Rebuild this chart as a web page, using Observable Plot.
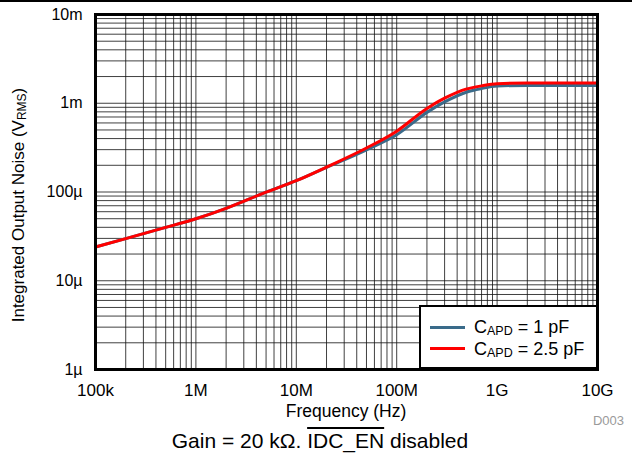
<!DOCTYPE html>
<html><head><meta charset="utf-8">
<script src="https://cdn.jsdelivr.net/npm/d3@7"></script>
<script src="https://cdn.jsdelivr.net/npm/@observablehq/plot@0.6"></script>
<style>
body{margin:0;background:#fff;font-family:"Liberation Sans",Arial,Helvetica,sans-serif;color:#000;}
#wrap{position:relative;width:632px;height:457px;overflow:hidden;background:#fff;}
#chart{position:absolute;left:0;top:0;}
#topline{position:absolute;left:0;top:0;width:632px;height:2px;background:#000;}
.abs{position:absolute;white-space:nowrap;}
#xlabel{left:246px;width:200px;top:402px;text-align:center;font-size:17.5px;line-height:18px;}
#ylabel{left:-131px;width:300px;top:196px;height:18px;text-align:center;font-size:17px;line-height:18px;transform:rotate(-90deg);transform-origin:50% 50%;}
#ylabel sub{font-size:12px;}
#dcode{left:560px;width:64px;top:414px;text-align:right;font-size:13px;line-height:14px;color:#9a9a9a;}
#caption{left:0;width:640px;top:430px;text-align:center;font-size:21px;line-height:22px;}
#caption .ov{text-decoration:overline;}
#legend{left:419px;top:305px;width:175px;height:60px;border:2px solid #000;background:#fff;}
.sw{position:absolute;left:9px;width:35px;height:3px;}
.lt{position:absolute;left:53px;font-size:18px;line-height:20px;}
sub{font-size:12.5px;vertical-align:-2px;line-height:0;}
</style>
</head><body>
<div id="wrap">
  <div id="chart"></div>
  <div id="topline"></div>
  <div id="ylabel" class="abs"></div>
  <div id="xlabel" class="abs"></div>
  <div id="dcode" class="abs"></div>
  <div id="caption" class="abs"></div>
  <div id="legend" class="abs"></div>
</div>
<script>
// Frequencies (Hz)
const freq = [1e5, 2e5, 5e5, 1e6, 2e6, 5e6, 1e7, 2e7, 5e7, 1e8, 2e8, 3e8, 5e8, 7e8, 1e9, 2e9, 5e9, 1e10];
// Integrated output noise (V RMS), CAPD = 1 pF
const noise1pF = [24e-6, 29.8e-6, 39.9e-6, 50e-6, 65.5e-6, 99.5e-6, 134e-6, 189e-6, 299e-6, 442e-6, 789e-6, 1.035e-3, 1.34e-3, 1.465e-3, 1.56e-3, 1.59e-3, 1.59e-3, 1.59e-3];
// Integrated output noise (V RMS), CAPD = 2.5 pF
const noise25pF = [24e-6, 29.8e-6, 39.9e-6, 50e-6, 65.5e-6, 99.5e-6, 134e-6, 191e-6, 313e-6, 485e-6, 875e-6, 1.14e-3, 1.45e-3, 1.57e-3, 1.66e-3, 1.69e-3, 1.69e-3, 1.69e-3];

const seriesNames = ["C<sub>APD</sub> = 1 pF", "C<sub>APD</sub> = 2.5 pF"];
const seriesColors = ["#3a6b8a", "#ff0000"];

const xTicks = [1e5, 1e6, 1e7, 1e8, 1e9, 1e10];
const xTickLabels = ["100k", "1M", "10M", "100M", "1G", "10G"];
const yTicks = [1e-6, 1e-5, 1e-4, 1e-3, 1e-2];
const yTickLabels = ["1\u00b5", "10\u00b5", "100\u00b5", "1m", "10m"];

const xTitle = "Frequency (Hz)";
const yTitle = "Integrated Output Noise (V<sub>RMS</sub>)";
const code = "D003";
const captionHTML = "Gain = 20 k\u03a9. <span class='ov'>IDC_EN</span> disabled";

// minor grid values (1..9 per decade)
const xGrid = [];
for (let e = 5; e <= 10; e++) for (let k = 1; k <= 9; k++) { const v = k * 10 ** e; if (v <= 1e10) xGrid.push(v); }
const yGrid = [];
for (let e = -6; e <= -2; e++) for (let k = 1; k <= 9; k++) { const v = k * 10 ** e; if (v <= 1.0001e-2) yGrid.push(v); }

const d1 = freq.map((f, i) => ({f, v: noise1pF[i]}));
const d2 = freq.map((f, i) => ({f, v: noise25pF[i]}));

const plot = Plot.plot({
  width: 632,
  height: 400,
  marginLeft: 95,
  marginRight: 35,
  marginTop: 14,
  marginBottom: 31,
  style: {fontFamily: "'Liberation Sans', Arial, sans-serif", fontSize: "16px", color: "#000", background: "transparent"},
  x: {type: "log", domain: [1e5, 1e10], ticks: xTicks, tickFormat: d => xTickLabels[xTicks.indexOf(d)], tickSize: 0, tickPadding: 14, label: null},
  y: {type: "log", domain: [1e-6, 1e-2], ticks: yTicks, tickFormat: d => yTickLabels[yTicks.indexOf(d)], tickSize: 0, tickPadding: 13, label: null},
  marks: [
    Plot.ruleX(xGrid, {stroke: "#111", strokeWidth: 1, strokeOpacity: 0.8}),
    Plot.ruleY(yGrid, {stroke: "#111", strokeWidth: 1, strokeOpacity: 0.8}),
    Plot.line(d1, {x: "f", y: "v", stroke: seriesColors[0], strokeWidth: 3, curve: "monotone-x"}),
    Plot.line(d2, {x: "f", y: "v", stroke: seriesColors[1], strokeWidth: 3, curve: "monotone-x"}),
    Plot.frame({stroke: "#000", strokeWidth: 3})
  ]
});
d3.select(plot).selectAll('g[aria-label^="x-axis"]').attr("font-size", 17).style("font-size", "17px");
document.getElementById("chart").appendChild(plot);

document.getElementById("ylabel").innerHTML = yTitle;
document.getElementById("xlabel").textContent = xTitle;
document.getElementById("dcode").textContent = code;
document.getElementById("caption").innerHTML = captionHTML;

const leg = document.getElementById("legend");
seriesNames.forEach((n, i) => {
  const sw = document.createElement("div");
  sw.className = "sw";
  sw.style.top = (i === 0 ? 19 : 40) + "px";
  sw.style.background = seriesColors[i];
  leg.appendChild(sw);
  const t = document.createElement("div");
  t.className = "lt";
  t.style.top = (i === 0 ? 10 : 32) + "px";
  t.innerHTML = n;
  leg.appendChild(t);
});
</script>
</body></html>
